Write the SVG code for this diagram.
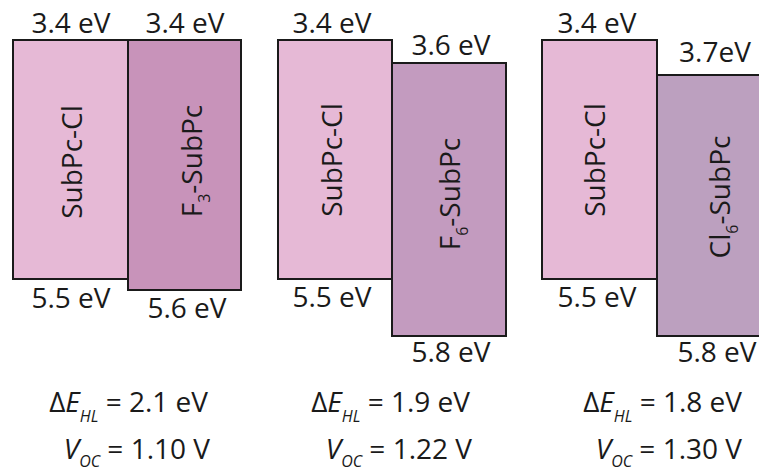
<svg xmlns="http://www.w3.org/2000/svg" width="759" height="473" viewBox="0 0 759 473">
<style>
.b{stroke:#1a1a1a;stroke-width:2}
.t{font-family:"Open Sans","Liberation Sans",sans-serif;font-size:28px;fill:#1a1a1a}
.c{text-anchor:middle}
.f{font-family:"Open Sans","Liberation Sans",sans-serif;font-size:28px;fill:#1a1a1a;text-anchor:end}
.s{font-size:16px}
.i{font-style:italic}
</style>
<rect width="759" height="473" fill="#ffffff"/>
<g id="panel1">
<g id="p1-subpccl">
<rect class="b" x="13" y="40" width="115" height="239" fill="#e6b9d6"/>
<text class="t c" x="71" y="33">3.4 eV</text>
<text class="t c" x="71" y="308">5.5 eV</text>
<text class="t c" transform="translate(82,162) rotate(-90)">SubPc-Cl</text>
</g>
<g id="p1-f3subpc">
<rect class="b" x="128" y="40" width="113" height="250" fill="#c893ba"/>
<text class="t c" x="185" y="33">3.4 eV</text>
<text class="t c" x="187" y="318">5.6 eV</text>
<text class="t c" transform="translate(202,161) rotate(-90)">F<tspan class="s" dy="8">3</tspan><tspan dy="-8">-SubPc</tspan></text>
</g>
</g>
<g id="panel2">
<g id="p2-subpccl">
<rect class="b" x="278" y="40" width="114" height="239" fill="#e6b9d6"/>
<text class="t c" x="332" y="33">3.4 eV</text>
<text class="t c" x="332" y="307">5.5 eV</text>
<text class="t c" transform="translate(342,160) rotate(-90)">SubPc-Cl</text>
</g>
<g id="p2-f6subpc">
<rect class="b" x="392" y="63" width="114" height="273" fill="#c39bbf"/>
<text class="t c" x="451" y="55">3.6 eV</text>
<text class="t c" x="451" y="362">5.8 eV</text>
<text class="t c" transform="translate(460,194) rotate(-90)">F<tspan class="s" dy="8">6</tspan><tspan dy="-8">-SubPc</tspan></text>
</g>
</g>
<g id="panel3">
<g id="p3-subpccl">
<rect class="b" x="542" y="40" width="115" height="239" fill="#e6b9d6"/>
<text class="t c" x="597" y="33">3.4 eV</text>
<text class="t c" x="597" y="307">5.5 eV</text>
<text class="t c" transform="translate(605,160) rotate(-90)">SubPc-Cl</text>
</g>
<g id="p3-cl6subpc">
<rect class="b" x="657" y="75" width="114" height="261" fill="#bca0bf"/>
<text class="t c" x="715" y="62">3.7eV</text>
<text class="t c" x="717" y="362">5.8 eV</text>
<text class="t c" transform="translate(730,197) rotate(-90)">Cl<tspan class="s" dy="8">6</tspan><tspan dy="-8">-SubPc</tspan></text>
</g>
</g>
<g id="values">
<text class="f" x="208" y="412">Δ<tspan class="i">E</tspan><tspan class="s i" dy="10">HL</tspan><tspan dy="-10"> = 2.1 eV</tspan></text>
<text class="f" x="210" y="459"><tspan class="i">V</tspan><tspan class="s i" dy="8">OC</tspan><tspan dy="-8"> = 1.10 V</tspan></text>
<text class="f" x="470" y="412">Δ<tspan class="i">E</tspan><tspan class="s i" dy="10">HL</tspan><tspan dy="-10"> = 1.9 eV</tspan></text>
<text class="f" x="472" y="459"><tspan class="i">V</tspan><tspan class="s i" dy="8">OC</tspan><tspan dy="-8"> = 1.22 V</tspan></text>
<text class="f" x="742" y="412">Δ<tspan class="i">E</tspan><tspan class="s i" dy="10">HL</tspan><tspan dy="-10"> = 1.8 eV</tspan></text>
<text class="f" x="742" y="459"><tspan class="i">V</tspan><tspan class="s i" dy="8">OC</tspan><tspan dy="-8"> = 1.30 V</tspan></text>
</g>
</svg>
